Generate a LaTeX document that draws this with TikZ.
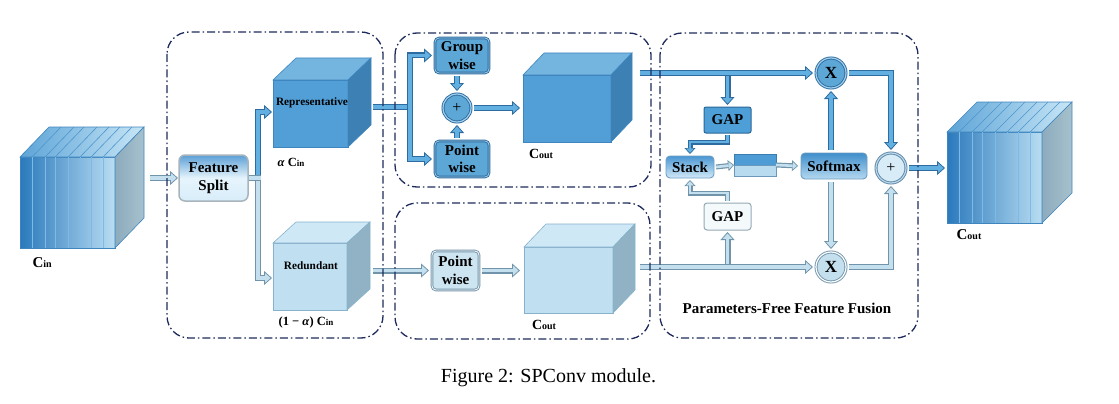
\documentclass[tikz,border=0pt]{standalone}
\usepackage{fontspec}
\setmainfont{Liberation Serif}
\usetikzlibrary{arrows.meta,calc}
\definecolor{navy}{HTML}{1E2B5C}
\definecolor{dO}{HTML}{2E6B9E}
\definecolor{dI}{HTML}{62B0E2}
\definecolor{lO}{HTML}{7194AA}
\definecolor{lI}{HTML}{C4E0EF}
\definecolor{cubeD}{HTML}{529FD7}
\definecolor{cubeDtop}{HTML}{74B5E0}
\definecolor{cubeDside}{HTML}{3C80B4}
\definecolor{cubeDedge}{HTML}{3F86BE}
\definecolor{cubeL}{HTML}{C0E0F2}
\definecolor{cubeLtop}{HTML}{CFE8F6}
\definecolor{cubeLside}{HTML}{90B2C4}
\definecolor{cubeLedge}{HTML}{86B2CC}
\definecolor{stripeF}{HTML}{7DBBE6}
\definecolor{stripeT}{HTML}{4E95CD}
\definecolor{grL}{HTML}{2A79BC}
\definecolor{grR}{HTML}{B9DDF2}
\definecolor{grTL}{HTML}{5DA4D7}
\definecolor{grTR}{HTML}{C8E6F6}
\definecolor{grSL}{HTML}{8CABBD}
\definecolor{grSR}{HTML}{A7C1CD}
\definecolor{fsEdge}{HTML}{A8B4BC}
\definecolor{fsTop}{HTML}{5B9FD6}
\definecolor{fsBot}{HTML}{D8EDFA}
\definecolor{fsMid}{HTML}{E6F4FC}
\definecolor{p2Edge}{HTML}{5E86A6}
\definecolor{p2Ring}{HTML}{B9D8EC}
\definecolor{p2Fill}{HTML}{D8ECF8}
\definecolor{g1Edge}{HTML}{2A6797}
\definecolor{g1Fill}{HTML}{4E9FD8}
\definecolor{g2Edge}{HTML}{95A9B5}
\definecolor{g2Fill}{HTML}{F4F9FC}
\definecolor{stEdge}{HTML}{6F9FC4}
\definecolor{stTop}{HTML}{4A96D2}
\definecolor{stBot}{HTML}{D2E9F8}
\definecolor{smEdge}{HTML}{6D9CC0}
\definecolor{smTop}{HTML}{3F8ECB}
\definecolor{smBot}{HTML}{B5D9F0}
\definecolor{barD}{HTML}{4E9CD6}
\definecolor{barDe}{HTML}{3C7DB0}
\definecolor{barL}{HTML}{B8DBF0}
\definecolor{barLe}{HTML}{6C98BA}
\newcommand\mycube[6]{%
  \path[#4, draw=#6, line width=0.6pt] (#1.north west) -- ++(#2,-#3) -- ($(#1.north east)+(#2,-#3)$) -- (#1.north east) -- cycle;
  \path[#5, draw=#6, line width=0.6pt] (#1.north east) -- ++(#2,-#3) -- ($(#1.south east)+(#2,-#3)$) -- (#1.south east) -- cycle;
}
\newcommand\subC[3]{{\fontsize{#1}{#1}\selectfont\bfseries C{\fontsize{#2}{#2}\selectfont #3}}}
\begin{document}
\begin{tikzpicture}[x=1pt,y=-1pt,
  pipe/.style 2 args={draw=#1, line width=6pt, -{Triangle[length=8pt,width=14pt,fill=#2,line width=0.8pt]}, postaction={draw=#2, line width=3.4pt, -, shorten >=7.4pt}},
  pipeN/.style 2 args={draw=#1, line width=6pt, postaction={draw=#2, line width=3.4pt}},
  pipeS/.style 2 args={draw=#1, line width=5pt, -{Triangle[length=6pt,width=11pt,fill=#2,line width=0.7pt]}, postaction={draw=#2, line width=2.6pt, -, shorten >=5.4pt}},
  frame/.style={draw=navy, line width=1.3pt, rounded corners=22pt, dash pattern=on 8pt off 3pt on 1.5pt off 3pt},
  cubef/.style={draw=#1, line width=0.6pt, inner sep=0pt, outer sep=0pt},
  lbl/.style={font=\fontsize{15}{17.5}\selectfont\bfseries, align=center, text=black},
  boxD/.style={lbl, draw=dO, double=dI!60, double distance=0.8pt, line width=0.9pt, fill=dI!95!black, rounded corners=4pt, inner sep=0pt, outer sep=3pt},
  boxL/.style={lbl, draw=lO, double=white, double distance=0.8pt, line width=0.9pt, fill=lI!85, rounded corners=4pt, inner sep=0pt, outer sep=3pt},
  circD/.style={circle, draw=dO, double=dI!60, double distance=1.2pt, line width=0.9pt, fill=dI!95!black, inner sep=0pt, outer sep=3pt, minimum size=28pt},
  circL/.style={circle, draw=lO, double=white, double distance=1.2pt, line width=0.9pt, fill=lI, inner sep=0pt, outer sep=3pt, minimum size=28pt},
  stripe/.style={draw=stripeF, line width=0.7pt},
  stripet/.style={draw=stripeT, line width=0.6pt}
]
\useasboundingbox (0,0) rectangle (1119,404);

% ---------- input cube ----------
\node[cubef=cubeDedge, left color=grL, right color=grR, minimum width=95pt, minimum height=91pt] (cin) at (67.5,202.5) {};
\mycube{cin}{29}{30}{left color=grTL, right color=grTR}{left color=grSL, right color=grSR}{cubeDedge}
\foreach \s in {12,25,35,48,60,71,83}{
  \draw[stripe] ($(cin.north west)+(\s,0)$) -- ($(cin.south west)+(\s,0)$);
  \draw[stripet] ($(cin.north west)+(\s,0)$) -- ++(29,-30);
}
\node[anchor=west] (cinlbl) at (29,263) {\subC{15}{10}{in}};

% ---------- split section ----------
\node[lbl, draw=fsEdge, line width=1.5pt, rounded corners=6pt, top color=fsTop, bottom color=fsBot, middle color=fsMid, minimum width=69pt, minimum height=46pt, inner sep=0pt, outer sep=1pt] (fs) at (213.5,178) {Feature\\Split};

\node[cubef=cubeDedge, fill=cubeD, minimum width=75pt, minimum height=67pt] (rep) at (310.5,113.5) {};
\mycube{rep}{23}{22}{fill=cubeDtop}{fill=cubeDside}{cubeDedge}
\node[font=\fontsize{11.3}{12}\selectfont\bfseries] (replbl) at (312,103) {Representative};
\node[font=\fontsize{12.5}{13}\selectfont\bfseries] (albl) at (291,162) {\textit{α} \subC{12.5}{9}{in}};

\node[cubef=cubeLedge, fill=cubeL, minimum width=74pt, minimum height=67pt] (red) at (310,276.5) {};
\mycube{red}{23}{21}{fill=cubeLtop}{fill=cubeLside}{cubeLedge}
\node[font=\fontsize{11.3}{12}\selectfont\bfseries] (redlbl) at (311,266) {Redundant};
\node[font=\fontsize{12.5}{13}\selectfont\bfseries] (blbl) at (306,322) {(1 − \textit{α}) \subC{12.5}{9}{in}};

% ---------- top middle ----------
\node[boxD, minimum width=54pt, minimum height=35pt] (gw) at (462,55.5) {Group\\wise};
\node[boxD, minimum width=54pt, minimum height=36pt] (pw1) at (462,159) {Point\\wise};
\node[circD, font=\fontsize{16}{16}\selectfont] (plus1) at (457,108) {+};
\node[cubef=cubeDedge, fill=cubeD, minimum width=88pt, minimum height=67pt] (topout) at (567,108.5) {};
\mycube{topout}{21}{22}{fill=cubeDtop}{fill=cubeDside}{cubeDedge}
\node (c1lbl) at (541,154) {\subC{14}{10}{out}};

% ---------- bottom middle ----------
\node[boxL, minimum width=47pt, minimum height=39pt] (pw2) at (455.5,270.5) {Point\\wise};
\node[cubef=cubeLedge, fill=cubeL, minimum width=89pt, minimum height=66pt] (botout) at (568.5,280) {};
\mycube{botout}{22}{23}{fill=cubeLtop}{fill=cubeLside}{cubeLedge}
\node (c2lbl) at (544,325) {\subC{14}{10}{out}};

% ---------- fusion ----------
\node[circD, minimum size=30pt, font=\fontsize{17}{17}\selectfont\bfseries] (x1) at (831,73) {X};
\node[circL, minimum size=30pt, font=\fontsize{17}{17}\selectfont\bfseries] (x2) at (831,267) {X};
\node[circle, draw=p2Edge, double=p2Ring, double distance=1.2pt, line width=0.9pt, fill=p2Fill, inner sep=0pt, outer sep=3pt, minimum size=30pt, font=\fontsize{16}{16}\selectfont] (plus2) at (891,168) {+};
\node[lbl, draw=g1Edge, line width=1pt, fill=g1Fill, rounded corners=2pt, minimum width=47pt, minimum height=26pt, inner sep=0pt, outer sep=2pt] (gap1) at (727.5,120) {GAP};
\node[lbl, draw=g2Edge, line width=1pt, fill=g2Fill, rounded corners=3pt, minimum width=47pt, minimum height=27pt, inner sep=0pt, outer sep=2pt] (gap2) at (727.5,216.5) {GAP};
\node[lbl, draw=stEdge, line width=0.9pt, top color=stTop, bottom color=stBot, rounded corners=4pt, minimum width=48pt, minimum height=22pt, inner sep=0pt, outer sep=2pt] (stack) at (690,167) {Stack};
\node[lbl, draw=smEdge, line width=0.9pt, top color=smTop, bottom color=smBot, rounded corners=4pt, minimum width=66pt, minimum height=26pt, inner sep=0pt, outer sep=3pt] (soft) at (834,166) {Softmax};
\node[minimum width=36pt, minimum height=16pt, inner sep=0pt, outer sep=3pt] (bars) at (755,165) {};
\filldraw[fill=barD, draw=barDe, line width=0.6pt] (bars.north west) rectangle (bars.east);
\filldraw[fill=barL, draw=barLe, line width=0.6pt] (bars.west) rectangle (bars.south east);
\node[font=\fontsize{15}{15}\selectfont\bfseries] (pfff) at (787,308) {Parameters-Free Feature Fusion};

% ---------- output cube ----------
\node[cubef=cubeDedge, left color=grL, right color=grR, minimum width=95pt, minimum height=91pt] (outc) at (994.5,177.5) {};
\mycube{outc}{30}{30}{left color=grTL, right color=grTR}{left color=grSL, right color=grSR}{cubeDedge}
\foreach \s in {12,25,35,48,60,71,83}{
  \draw[stripe] ($(outc.north west)+(\s,0)$) -- ($(outc.south west)+(\s,0)$);
  \draw[stripet] ($(outc.north west)+(\s,0)$) -- ++(30,-30);
}
\node (c3lbl) at (969,235) {\subC{15}{10}{out}};

% ---------- connectors ----------
\coordinate (cinout) at (150,178);
\draw[pipe={lO}{lI}] (cinout) -- (fs.west);
\coordinate (sp) at (258,178);
\draw[pipe={dO}{dI}] (sp) |- ($(rep.west)+(-1,-1.5)$);
\draw[pipe={lO}{lI}] (sp) |- ($(red.west)+(-1,1.5)$);
\draw[pipeN={lO}{lI}] (fs.east) -- ($(sp)+(3,0)$);

\coordinate (repout) at (373,107);
\coordinate (tsplit) at (410,107);
\draw[pipeN={dO}{dI}] (repout) -- (tsplit);
\draw[pipe={dO}{dI}] (tsplit) |- (gw.west);
\draw[pipe={dO}{dI}] (tsplit) |- (pw1.west);
\draw[pipe={dO}{dI}] (gw.south -| plus1) -- (plus1.north);
\draw[pipe={dO}{dI}] (pw1.north -| plus1) -- (plus1.south);
\draw[pipe={dO}{dI}] (plus1.east) -- ($(plus1.east -| topout.west)+(-3,0)$);

\coordinate (redout) at (373,270.5);
\draw[pipe={lO}{lI}] (redout) -- (pw2.west);
\draw[pipe={lO}{lI}] (pw2.east) -- ($(pw2.east -| botout.west)+(-4,0)$);

% fusion
\coordinate (t1) at (640,73);
\coordinate (b1) at (727.5,73);
\draw[pipe={dO}{dI}] (b1) -- (gap1.north);
\draw[pipe={dO}{dI}] (t1) -- (x1.west);
\draw[pipeS={dO}{dI}] (gap1.south) -- ++(0,7) -| (stack.north);
\draw[pipeS={lO}{lI}] (gap2.north) -- ++(0,-8) -| (stack.south);
\draw[pipeS={lO}{lI}] (stack.east) -- (bars.west);
\draw[pipeS={lO}{lI}] (bars.east) -- (soft.west);
\draw[pipe={dO}{dI}] (x1.south |- soft.north) -- (x1.south);
\draw[pipe={lO}{lI}] (x2.north |- soft.south) -- (x2.north);
\draw[pipe={dO}{dI}] (x1.east) -| (plus2.north);
\draw[pipe={lO}{lI}] (x2.east) -| (plus2.south);
\coordinate (t2) at (640,267);
\coordinate (b2) at (727.5,267);
\draw[pipe={lO}{lI}] (b2) -- (gap2.south);
\draw[pipe={lO}{lI}] (t2) -- (x2.west);
\draw[pipe={dO}{dI}] (plus2.east) -- ($(plus2.east -| outc.west)+(-2,0)$);

% ---------- frames ----------
\draw[frame] (167,32) rectangle (383,338);
\draw[frame] (395,33) rectangle (651,187);
\draw[frame] (395,203) rectangle (650,339);
\draw[frame] (660,33) rectangle (918,338);

% ---------- caption ----------
\node[font=\fontsize{20}{22}\selectfont] (cap) at (548.5,378) {Figure 2: SPConv module.};
\end{tikzpicture}
\end{document}
